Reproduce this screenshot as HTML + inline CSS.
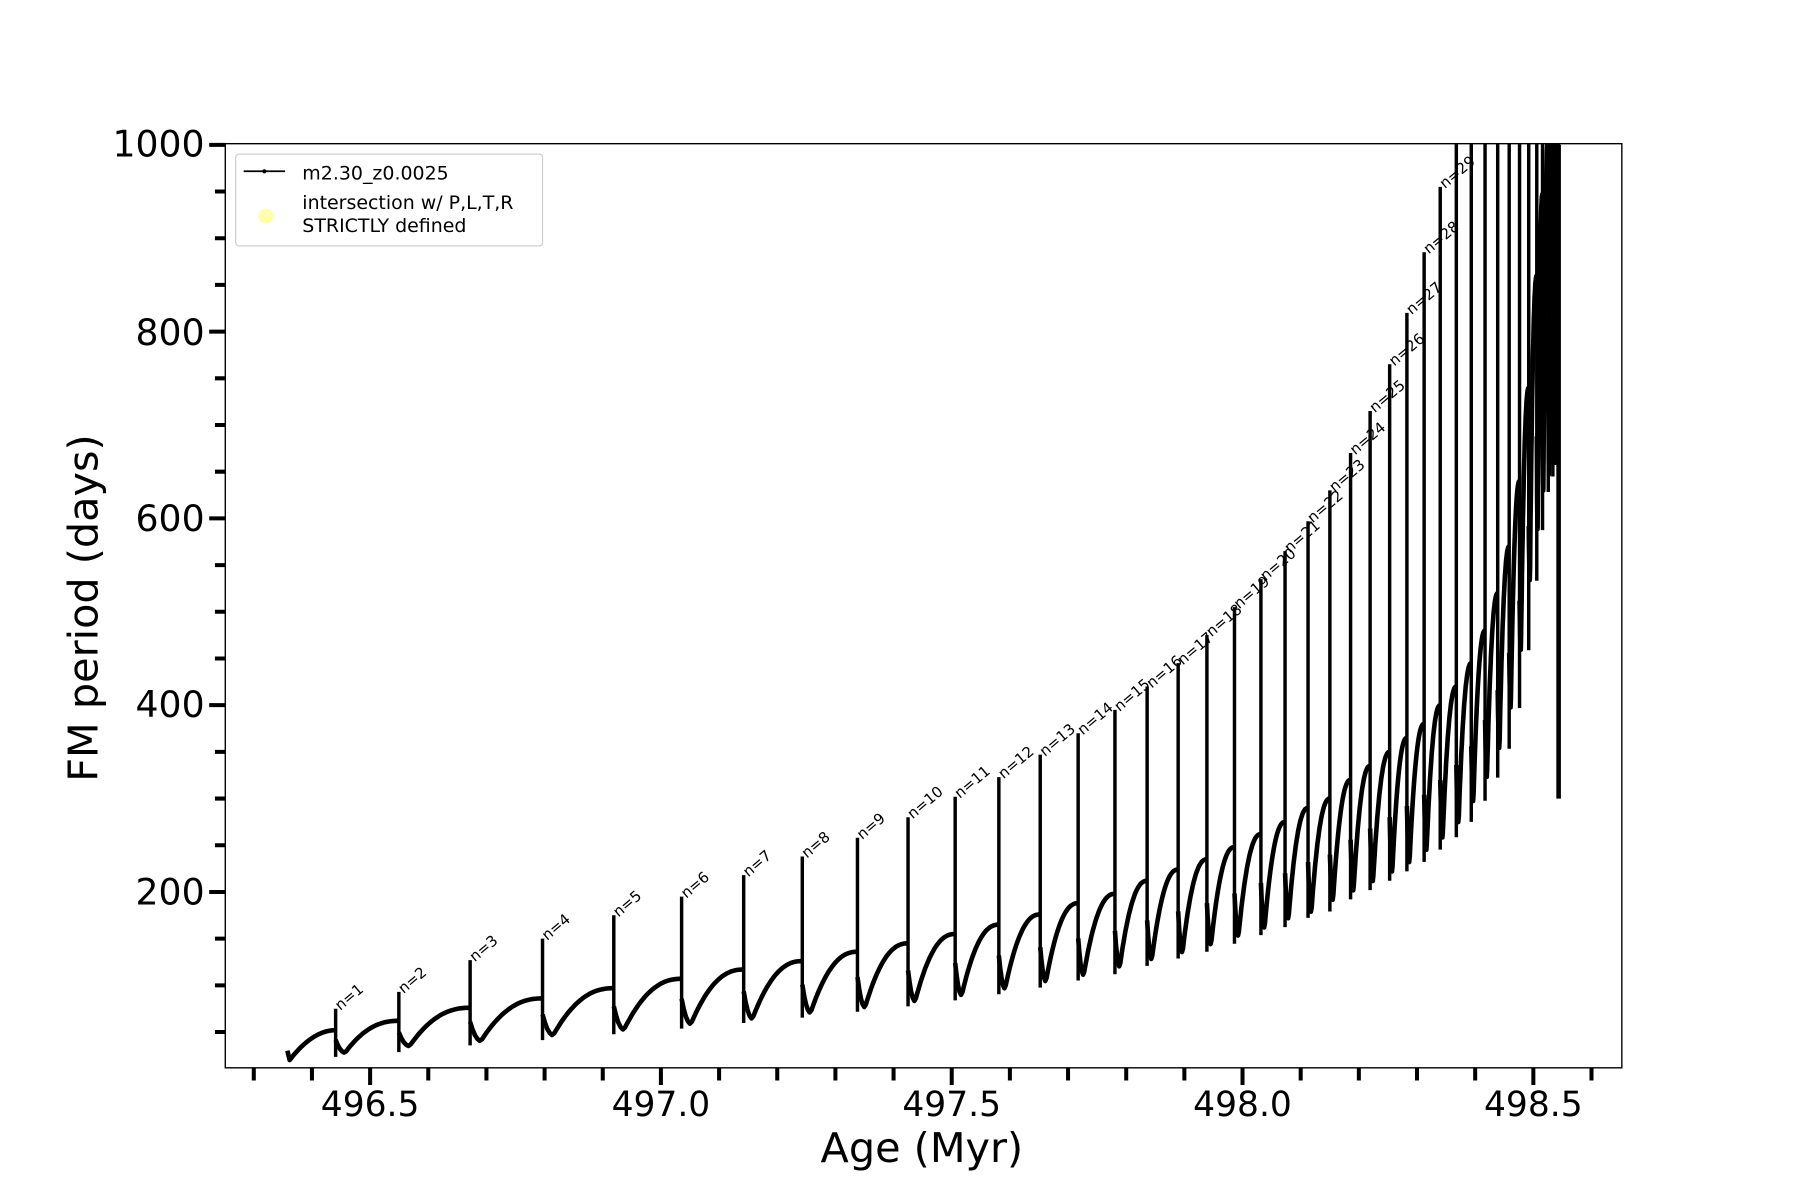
<!DOCTYPE html>
<html><head><meta charset="utf-8"><style>html,body{margin:0;padding:0;background:#fff}svg{display:block}</style></head>
<body>
<svg id="s" xmlns="http://www.w3.org/2000/svg" width="1800" height="1200" viewBox="0 0 1566 1044" font-family="DejaVu Sans, Liberation Sans, sans-serif">
<rect width="1566" height="1044" fill="#fff"/>
<defs><clipPath id="c"><rect x="196" y="125" width="1215" height="804"/></clipPath></defs>
<g id="data" clip-path="url(#c)" fill="none" stroke="#000" stroke-linejoin="round"></g>
<g id="lab" font-size="13" fill="#000"></g>
<rect x="196" y="125" width="1215" height="804" fill="none" stroke="#000" stroke-width="1.2"/>
<g id="ticks" stroke="#000"></g>
<g font-size="31.5" fill="#000" text-anchor="end">
<text x="178" y="136">1000</text><text x="178" y="300">800</text><text x="178" y="462">600</text><text x="178" y="624">400</text><text x="178" y="787">200</text>
</g>
<g font-size="30" fill="#000" text-anchor="middle">
<text x="322" y="971">496.5</text><text x="575" y="971">497.0</text><text x="828" y="971">497.5</text><text x="1081" y="971">498.0</text><text x="1334" y="971">498.5</text>
<text x="802" y="1011" font-size="36">Age (Myr)</text>
<text transform="translate(85,529) rotate(-90)" font-size="36">FM period (days)</text>
</g>
<rect x="205" y="134" width="267" height="80" rx="3" fill="#fff" fill-opacity="0.85" stroke="#ccc"/>
<line x1="212" y1="149" x2="248" y2="149" stroke="#000" stroke-width="1.6"/><circle cx="230" cy="149" r="1.8"/>
<circle cx="231" cy="188" r="6.5" fill="#ffffaa"/>
<g font-size="16.5" fill="#000"><text x="263" y="156">m2.30_z0.0025</text><text x="263" y="182">intersection w/ P,L,T,R</text><text x="263" y="202">STRICTLY defined</text></g>
</svg>
<script>
var X=a=>322+(a-496.5)*506, Y=p=>776-(p-200)*0.8125;
var sp=[292,347,409,472,534,593,647,698,746,790,831,869,905,938,970,998,1025,1050,1074,1097,1118,1138,1157,1175,1192,1209,1224,1239,1253,1267,1280,1292,1303,1313,1322,1330,1337,1342,1347,1351,1354,1356];
var envT=[[250,28],[292,52],[347,62],[409,76],[472,86],[534,97],[593,107],[647,117],[698,126],[746,136],[790,145],[831,155],[869,165],[905,176],[938,188],[970,198],[998,212],[1025,224],[1050,235],[1074,248],[1097,262],[1118,275],[1138,290],[1157,300],[1175,320],[1192,335],[1209,350],[1224,365],[1239,380],[1253,400],[1267,420],[1280,445],[1292,480],[1303,520],[1313,570],[1322,640],[1330,740],[1337,860],[1345,1000],[1360,1100]];
function env(x){for(var i=1;i<envT.length;i++){if(x<=envT[i][0]){var a=envT[i-1],b=envT[i];return a[1]+(b[1]-a[1])*(x-a[0])/(b[0]-a[0]);}}return 1100;}
var tops=[75,93,127,150,175,195,218,238,258,280,302,323,347,370,395,420,445,475,505,535,565,597,630,670,715,765,820,885,955];
var g=document.getElementById('data'),lab=document.getElementById('lab'),tk=document.getElementById('ticks');
var d='';
d+='M250,'+Y(30)+' L252,'+Y(20);
for(var x=252;x<=292;x+=2){var u=(x-252)/40;d+=' L'+x+','+Y(20+(52-20)*(1-Math.pow(1-u,2)));}
for(var i=0;i<sp.length-1;i++){
 var s=sp[i],e=sp[i+1],L=e-s,ev=env(e),ep=env(s);
 var r=0.45+0.17*Math.min(1,(s-292)/1000);
 var mn=ev*r;
 d+=' M'+s+','+Y(ep*0.8);
 var n=30;
 for(var k=1;k<=n;k++){var t=k/n,x=s+t*L,p;
  if(t<0.15){var q=t/0.15;p=ep*0.8+(mn-ep*0.8)*(1-Math.pow(1-q,2));}
  else{var u=(t-0.15)/0.85;p=mn+(ev-mn)*(1-Math.pow(1-u,2.3));}
  d+=' L'+x.toFixed(1)+','+Y(p).toFixed(1);}
}
var pth=document.createElementNS('http://www.w3.org/2000/svg','path');pth.setAttribute('d',d);pth.setAttribute('stroke-width','4');g.appendChild(pth);
var sd='';
for(var i=0;i<sp.length;i++){var s=sp[i],ep=env(s),tp=i<tops.length?tops[i]:1100;var lo=ep*(0.45+0.17*Math.min(1,(s-292)/1000));
 sd+='M'+s+','+Y(lo)+' L'+s+','+Y(tp)+' ';
 if(i<tops.length){var t=document.createElementNS('http://www.w3.org/2000/svg','text');t.setAttribute('transform','translate('+(s+4)+','+(Y(tp)+2)+') rotate(-40)');t.textContent='n='+(i+1);lab.appendChild(t);}
}
var sp2=document.createElementNS('http://www.w3.org/2000/svg','path');sp2.setAttribute('d',sd);sp2.setAttribute('stroke-width','3');g.appendChild(sp2);
var l=document.createElementNS('http://www.w3.org/2000/svg','path');l.setAttribute('d','M1356,'+Y(300)+' L1356,'+Y(1000));l.setAttribute('stroke-width','4');g.appendChild(l);
var td='';
for(var p=50;p<=1000;p+=50){var y=Y(p);var maj=p%200==0;td+='M'+(maj?182:187)+','+y+' L196,'+y+' ';}
for(var a=496.3;a<=498.65;a+=0.1){var x=X(a);var m=Math.abs(a*2-Math.round(a*2))<0.01;td+='M'+x+',929 L'+x+','+(m?944:940)+' ';}
var tp=document.createElementNS('http://www.w3.org/2000/svg','path');tp.setAttribute('d',td);tp.setAttribute('stroke-width','3.5');tk.appendChild(tp);
</script>
</body></html>
